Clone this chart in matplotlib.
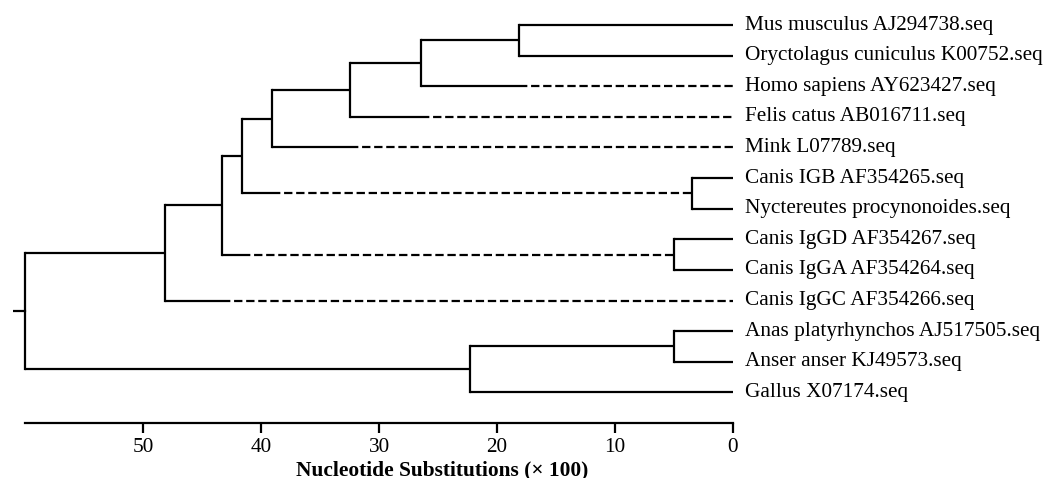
import matplotlib
matplotlib.use("Agg")
import matplotlib.pyplot as plt

plt.rcParams['font.family'] = ['Liberation Serif', 'DejaVu Serif']
plt.rcParams['lines.scale_dashes'] = False

# Leaves (top to bottom)
leaves = [
    "Mus musculus AJ294738.seq",
    "Oryctolagus cuniculus K00752.seq",
    "Homo sapiens AY623427.seq",
    "Felis catus AB016711.seq",
    "Mink L07789.seq",
    "Canis IGB AF354265.seq",
    "Nyctereutes procynonoides.seq",
    "Canis IgGD AF354267.seq",
    "Canis IgGA AF354264.seq",
    "Canis IgGC AF354266.seq",
    "Anas platyrhynchos AJ517505.seq",
    "Anser anser KJ49573.seq",
    "Gallus X07174.seq",
]

# Internal nodes: name, children, height (substitutions x 100)
node_names    = ["n1", "n2", "n3", "n4", "n5", "n6", "n7", "n8", "n9", "n10", "n11", "root"]
node_children = [
    ("Mus musculus AJ294738.seq", "Oryctolagus cuniculus K00752.seq"),
    ("n1", "Homo sapiens AY623427.seq"),
    ("n2", "Felis catus AB016711.seq"),
    ("n3", "Mink L07789.seq"),
    ("Canis IGB AF354265.seq", "Nyctereutes procynonoides.seq"),
    ("n4", "n5"),
    ("Canis IgGD AF354267.seq", "Canis IgGA AF354264.seq"),
    ("n6", "n7"),
    ("n8", "Canis IgGC AF354266.seq"),
    ("Anas platyrhynchos AJ517505.seq", "Anser anser KJ49573.seq"),
    ("n10", "Gallus X07174.seq"),
    ("n9", "n11"),
]
node_heights = [18.1, 26.4, 32.5, 39.1, 3.5, 41.6, 5.0, 43.3, 48.1, 5.0, 22.3, 60.0]

# Branches drawn dashed beyond the sibling's height
dashed_branches = ["Homo sapiens AY623427.seq", "Felis catus AB016711.seq",
                   "Mink L07789.seq", "n5", "n7", "Canis IgGC AF354266.seq"]

xticks = [0, 10, 20, 30, 40, 50]
xlabel = "Nucleotide Substitutions (\u00d7 100)"

W, H = 1046, 478
fig = plt.figure(figsize=(W / 100, H / 100), dpi=100)
left_px, right_px = 13.2, 733
top_px, bottom_px = 9.7, 423
ax = fig.add_axes([left_px / W, 1 - bottom_px / H, (right_px - left_px) / W, (bottom_px - top_px) / H])
ax.set_xlim(61, 0)
ax.set_ylim(13.0, -0.5)

height = {name: 0.0 for name in leaves}
ypos = {name: float(i) for i, name in enumerate(leaves)}
for name, ch, h in zip(node_names, node_children, node_heights):
    height[name] = h
    ypos[name] = (ypos[ch[0]] + ypos[ch[1]]) / 2

lw = 1.6
col = "black"
for name, ch in zip(node_names, node_children):
    h = height[name]
    ax.plot([h, h], [ypos[ch[0]], ypos[ch[1]]], color=col, lw=lw, solid_capstyle='projecting')
    for i, c in enumerate(ch):
        sib = ch[1 - i]
        if c in dashed_branches:
            s = height[sib]
            ax.plot([h, s], [ypos[c], ypos[c]], color=col, lw=lw, solid_capstyle='butt')
            ax.plot([s, height[c]], [ypos[c], ypos[c]], color=col, lw=lw,
                    dashes=(6.0, 2.7), dash_capstyle='butt')
        else:
            ax.plot([h, height[c]], [ypos[c], ypos[c]], color=col, lw=lw, solid_capstyle='butt')

# root stub
ax.plot([61, 60], [ypos["root"], ypos["root"]], color=col, lw=lw)

for name in leaves:
    ax.annotate(name, xy=(0, ypos[name]), xytext=(12, 0), textcoords='offset pixels',
                va='center', ha='left', fontsize=15.3, annotation_clip=False)

for s in ["top", "right", "left"]:
    ax.spines[s].set_visible(False)
ax.spines["bottom"].set_bounds(0, 60)
ax.spines["bottom"].set_linewidth(1.6)
ax.set_yticks([])
ax.set_xticks(xticks)
ax.set_xticklabels([str(t) for t in xticks])
ax.tick_params(axis='x', direction='out', length=7.5, width=1.6, labelsize=15.3, pad=3)
ax.set_xlabel(xlabel, fontsize=15.4, fontweight='bold')
ax.xaxis.label.set_va('baseline')
ax.xaxis.set_label_coords((442 - left_px) / (right_px - left_px),
                          -(475 - bottom_px) / (bottom_px - top_px))

fig.savefig("out.png", dpi=100)
